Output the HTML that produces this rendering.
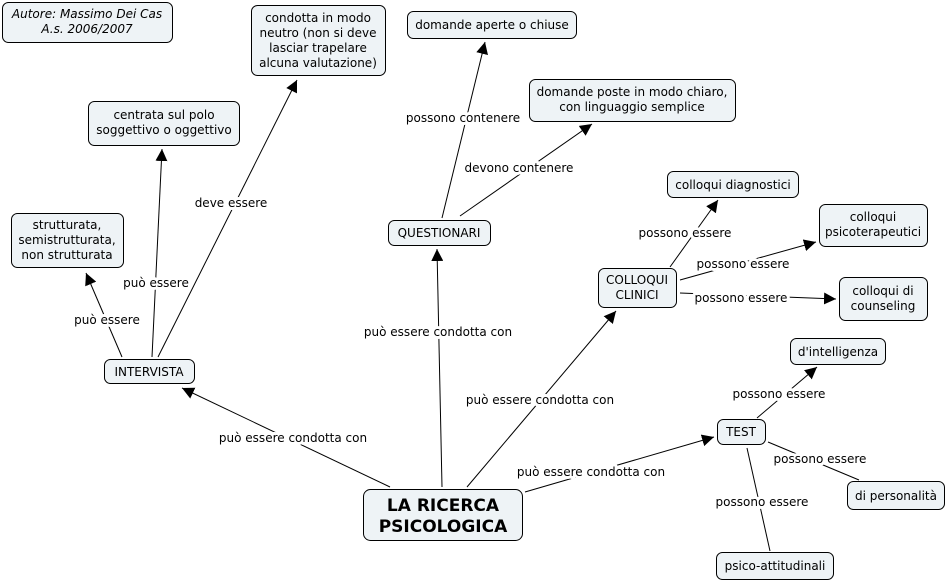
<!DOCTYPE html>
<html><head><meta charset="utf-8"><style>
html,body{margin:0;padding:0;background:#fff;}
svg{display:block;font-family:"DejaVu Sans","Liberation Sans",sans-serif;}
.n{fill:#eef3f6;stroke:#000;stroke-width:1;}
.t{font-size:12px;text-anchor:middle;fill:#000;}
.l{font-size:12px;text-anchor:middle;fill:#000;paint-order:stroke;stroke:#fff;stroke-width:6px;stroke-linejoin:round;}
line{stroke:#000;stroke-width:1;}
</style></head><body>
<svg width="946" height="581" viewBox="0 0 946 581">
<defs><marker id="a" viewBox="0 0 10 10" refX="10" refY="5" markerWidth="12" markerHeight="12" markerUnits="userSpaceOnUse" orient="auto"><path d="M0,0L10,5L0,10z" fill="#000"/></marker></defs>
<!-- lines -->
<g>
<line x1="390" y1="487" x2="182" y2="388" marker-end="url(#a)"/>
<line x1="442" y1="487" x2="437" y2="249" marker-end="url(#a)"/>
<line x1="467" y1="487" x2="616" y2="311" marker-end="url(#a)"/>
<line x1="525" y1="492" x2="714" y2="437" marker-end="url(#a)"/>
<line x1="122" y1="357" x2="86" y2="273" marker-end="url(#a)"/>
<line x1="152" y1="357" x2="162" y2="149" marker-end="url(#a)"/>
<line x1="158" y1="357" x2="297" y2="80" marker-end="url(#a)"/>
<line x1="442" y1="218" x2="485" y2="42" marker-end="url(#a)"/>
<line x1="460" y1="216" x2="592" y2="124" marker-end="url(#a)"/>
<line x1="670" y1="267" x2="718" y2="200" marker-end="url(#a)"/>
<line x1="680" y1="280" x2="816" y2="242" marker-end="url(#a)"/>
<line x1="680" y1="293" x2="836" y2="299" marker-end="url(#a)"/>
<line x1="757" y1="418" x2="817" y2="367" marker-end="url(#a)"/>
<line x1="768" y1="442" x2="859" y2="480"/>
<line x1="747" y1="448" x2="770" y2="551"/>
</g>
<!-- labels -->
<text class="l" x="293" y="442">può essere condotta con</text>
<text class="l" x="438" y="336">può essere condotta con</text>
<text class="l" x="540" y="404">può essere condotta con</text>
<text class="l" x="591" y="476">può essere condotta con</text>
<text class="l" x="107" y="324">può essere</text>
<text class="l" x="156" y="287">può essere</text>
<text class="l" x="231" y="207">deve essere</text>
<text class="l" x="463" y="122">possono contenere</text>
<text class="l" x="519" y="172">devono contenere</text>
<text class="l" x="685" y="237">possono essere</text>
<text class="l" x="743" y="268">possono essere</text>
<text class="l" x="741" y="302">possono essere</text>
<text class="l" x="779" y="398">possono essere</text>
<text class="l" x="820" y="463">possono essere</text>
<text class="l" x="762" y="506">possono essere</text>
<!-- nodes -->
<rect class="n" x="2.5" y="2.5" width="170" height="40" rx="6"/>
<text class="t" x="87" y="18" font-style="italic">Autore: Massimo Dei Cas</text>
<text class="t" x="87" y="33" font-style="italic">A.s. 2006/2007</text>

<rect class="n" x="251.5" y="5.5" width="134" height="70" rx="6"/>
<text class="t" x="318" y="22">condotta in modo</text>
<text class="t" x="318" y="37">neutro (non si deve</text>
<text class="t" x="318" y="52">lasciar trapelare</text>
<text class="t" x="318" y="67">alcuna valutazione)</text>

<rect class="n" x="88.5" y="101.5" width="151" height="44" rx="6"/>
<text class="t" x="164" y="119">centrata sul polo</text>
<text class="t" x="164" y="134">soggettivo o oggettivo</text>

<rect class="n" x="11.5" y="213.5" width="112" height="54" rx="6"/>
<text class="t" x="67" y="229">strutturata,</text>
<text class="t" x="67" y="244">semistrutturata,</text>
<text class="t" x="67" y="259">non strutturata</text>

<rect class="n" x="104.5" y="359.5" width="90" height="24" rx="6"/>
<text class="t" x="149" y="376">INTERVISTA</text>

<rect class="n" x="407.5" y="11.5" width="169" height="27" rx="6"/>
<text class="t" x="492" y="29">domande aperte o chiuse</text>

<rect class="n" x="529.5" y="79.5" width="206" height="42" rx="6"/>
<text class="t" x="632" y="96">domande poste in modo chiaro,</text>
<text class="t" x="632" y="111">con linguaggio semplice</text>

<rect class="n" x="388.5" y="220.5" width="102" height="25" rx="6"/>
<text class="t" x="439" y="237">QUESTIONARI</text>

<rect class="n" x="667.5" y="171.5" width="131" height="26" rx="6"/>
<text class="t" x="733" y="189">colloqui diagnostici</text>

<rect class="n" x="819.5" y="204.5" width="108" height="42" rx="6"/>
<text class="t" x="873" y="221">colloqui</text>
<text class="t" x="873" y="236">psicoterapeutici</text>

<rect class="n" x="598.5" y="268.5" width="78" height="39" rx="6"/>
<text class="t" x="637" y="284">COLLOQUI</text>
<text class="t" x="637" y="299">CLINICI</text>

<rect class="n" x="839.5" y="277.5" width="88" height="43" rx="6"/>
<text class="t" x="883" y="295">colloqui di</text>
<text class="t" x="883" y="310">counseling</text>

<rect class="n" x="790.5" y="338.5" width="95" height="26" rx="6"/>
<text class="t" x="838" y="356">d'intelligenza</text>

<rect class="n" x="717.5" y="419.5" width="48" height="25" rx="6"/>
<text class="t" x="741" y="436">TEST</text>

<rect class="n" x="847.5" y="481.5" width="97" height="28" rx="6"/>
<text class="t" x="896" y="500">di personalità</text>

<rect class="n" x="716.5" y="552.5" width="117" height="27" rx="6"/>
<text class="t" x="775" y="570">psico-attitudinali</text>

<rect class="n" x="363.5" y="489.5" width="159" height="51" rx="7"/>
<text class="t" x="443" y="511" font-size="17" font-weight="bold" style="font-size:17px">LA RICERCA</text>
<text class="t" x="443" y="532" font-size="17" font-weight="bold" style="font-size:17px">PSICOLOGICA</text>
</svg>
</body></html>
